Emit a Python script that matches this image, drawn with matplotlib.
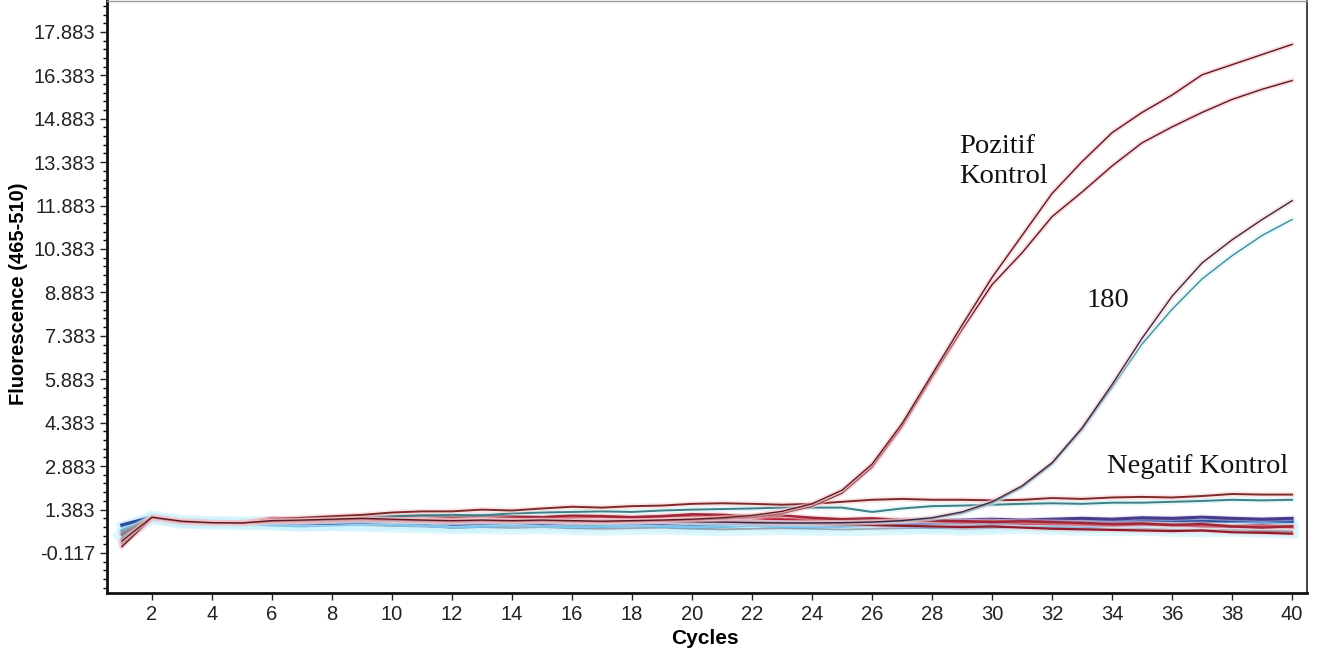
import matplotlib
matplotlib.use('Agg')
import matplotlib.pyplot as plt
import matplotlib.patheffects as pe
from matplotlib.ticker import AutoMinorLocator

cycles = list(range(1, 41))

# amplification curves (fluorescence per cycle)
pos_ctrl_1 = [0.30, 1.12, 0.98, 0.93, 0.92, 1.00, 1.02, 1.05, 1.08, 1.05,
              1.02, 1.00, 1.02, 1.00, 1.02, 1.00, 0.98, 1.00, 1.02, 1.05,
              1.10, 1.18, 1.32, 1.58, 2.05, 2.95, 4.35, 6.05, 7.75, 9.40,
              10.85, 12.30, 13.40, 14.40, 15.10, 15.70, 16.40, 16.75, 17.10, 17.45]
pos_ctrl_2 = [0.10, 1.10, 0.96, 0.92, 0.92, 0.98, 1.00, 1.03, 1.05, 1.02,
              1.00, 0.98, 1.00, 0.98, 1.00, 0.98, 0.96, 0.98, 1.00, 1.02,
              1.06, 1.12, 1.25, 1.50, 1.95, 2.85, 4.25, 5.95, 7.60, 9.15,
              10.25, 11.50, 12.35, 13.25, 14.05, 14.60, 15.10, 15.55, 15.90, 16.20]
sample_180_a = [0.20, 1.10, 0.95, 0.92, 0.90, 0.95, 0.98, 1.00, 1.02, 1.00,
                0.98, 0.95, 0.98, 0.96, 0.98, 0.95, 0.95, 0.96, 0.98, 0.96,
                0.95, 0.93, 0.92, 0.92, 0.93, 0.95, 1.00, 1.10, 1.30, 1.65,
                2.20, 3.00, 4.20, 5.70, 7.30, 8.75, 9.90, 10.70, 11.40, 12.05]
sample_180_b = [0.40, 1.10, 0.95, 0.92, 0.90, 0.94, 0.96, 0.98, 1.00, 0.98,
                0.96, 0.94, 0.96, 0.95, 0.96, 0.94, 0.94, 0.95, 0.96, 0.95,
                0.94, 0.92, 0.91, 0.91, 0.92, 0.94, 0.98, 1.08, 1.25, 1.60,
                2.15, 2.95, 4.15, 5.60, 7.10, 8.30, 9.35, 10.15, 10.85, 11.40]
neg_ctrl_1 = [0.50, 1.13, 0.95, 0.92, 0.92, 1.05, 1.10, 1.15, 1.20, 1.28,
              1.32, 1.32, 1.38, 1.35, 1.42, 1.48, 1.45, 1.50, 1.52, 1.58,
              1.60, 1.58, 1.55, 1.58, 1.65, 1.72, 1.75, 1.72, 1.72, 1.70,
              1.72, 1.78, 1.75, 1.80, 1.82, 1.80, 1.85, 1.92, 1.90, 1.90]
neg_ctrl_2 = [0.60, 1.12, 0.95, 0.92, 0.92, 1.00, 1.05, 1.08, 1.10, 1.15,
              1.18, 1.20, 1.18, 1.25, 1.28, 1.30, 1.32, 1.30, 1.35, 1.38,
              1.40, 1.42, 1.45, 1.45, 1.45, 1.30, 1.42, 1.50, 1.52, 1.55,
              1.58, 1.60, 1.58, 1.62, 1.62, 1.65, 1.68, 1.72, 1.70, 1.72]

# baseline (no amplification) samples
base_1 = [0.85, 1.12, 0.96, 0.92, 0.92, 0.95, 0.90, 0.92, 0.95, 0.98,
          1.00, 0.88, 0.92, 0.95, 0.90, 0.92, 0.95, 0.92, 0.90, 0.95,
          0.92, 0.90, 0.88, 0.92, 0.95, 0.90, 0.88, 0.92, 0.95, 0.90,
          0.92, 0.95, 0.98, 0.95, 1.00, 1.02, 0.98, 1.00, 1.02, 0.98]
base_2 = [0.80, 1.10, 0.95, 0.92, 0.90, 0.85, 0.82, 0.85, 0.88, 0.86,
          0.84, 0.78, 0.80, 0.84, 0.82, 0.78, 0.80, 0.84, 0.80, 0.78,
          0.80, 0.84, 0.80, 0.78, 0.80, 0.84, 0.78, 0.76, 0.80, 0.78,
          0.84, 0.80, 0.78, 0.84, 0.86, 0.88, 0.84, 0.80, 0.88, 0.86]
base_3 = [0.35, 1.12, 0.98, 0.94, 0.92, 1.08, 1.05, 1.12, 1.15, 1.10,
          1.05, 1.10, 1.15, 1.10, 1.08, 1.12, 1.15, 1.10, 1.15, 1.18,
          1.15, 1.10, 1.05, 1.02, 1.00, 0.98, 1.02, 1.00, 0.95, 0.98,
          0.92, 0.90, 0.88, 0.85, 0.88, 0.85, 0.82, 0.80, 0.82, 0.78]
base_4 = [0.15, 1.10, 0.96, 0.93, 0.92, 1.02, 0.95, 1.00, 1.05, 1.02,
          0.98, 1.00, 0.98, 1.02, 0.98, 0.95, 0.98, 1.00, 0.98, 0.95,
          0.98, 0.95, 0.92, 0.90, 0.88, 0.85, 0.82, 0.80, 0.78, 0.80,
          0.76, 0.72, 0.70, 0.68, 0.66, 0.64, 0.66, 0.60, 0.58, 0.55]
base_5 = [0.55, 1.11, 0.96, 0.92, 0.92, 0.98, 0.95, 0.98, 1.00, 1.00,
          0.98, 0.95, 1.00, 1.02, 1.00, 0.98, 1.00, 0.98, 1.00, 1.02,
          1.00, 0.98, 0.95, 0.98, 1.00, 1.02, 0.98, 1.00, 1.02, 1.05,
          1.02, 1.05, 1.08, 1.05, 1.10, 1.08, 1.12, 1.08, 1.05, 1.08]
base_6 = [0.65, 1.10, 0.95, 0.92, 0.90, 0.92, 0.90, 0.92, 0.95, 0.95,
          0.92, 0.88, 0.90, 0.92, 0.90, 0.88, 0.90, 0.92, 0.90, 0.88,
          0.90, 0.92, 0.90, 0.88, 0.85, 0.88, 0.90, 0.92, 0.90, 0.95,
          0.92, 0.95, 0.92, 0.95, 0.98, 0.95, 1.00, 0.98, 0.95, 0.98]
base_7 = [0.25, 1.12, 0.97, 0.93, 0.92, 1.00, 0.98, 1.08, 1.10, 1.15,
          1.18, 1.12, 1.18, 1.15, 1.12, 1.18, 1.15, 1.12, 1.15, 1.22,
          1.20, 1.15, 1.18, 1.10, 1.05, 1.08, 1.02, 1.00, 0.98, 0.95,
          0.98, 0.95, 0.92, 0.88, 0.90, 0.85, 0.88, 0.80, 0.76, 0.80]
base_8 = [0.45, 1.11, 0.96, 0.92, 0.91, 0.92, 0.86, 0.88, 0.85, 0.82,
          0.80, 0.76, 0.78, 0.75, 0.78, 0.74, 0.72, 0.74, 0.76, 0.72,
          0.70, 0.72, 0.74, 0.72, 0.70, 0.72, 0.74, 0.76, 0.72, 0.75,
          0.78, 0.75, 0.72, 0.70, 0.72, 0.68, 0.66, 0.68, 0.64, 0.62]

y_ticks = [-0.117, 1.383, 2.883, 4.383, 5.883, 7.383, 8.883, 10.383,
           11.883, 13.383, 14.883, 16.383, 17.883]
x_ticks = list(range(2, 41, 2))

fig = plt.figure(figsize=(13.22, 6.57), dpi=100)
ax = fig.add_axes([0.0809, 0.0974, 0.9078, 0.9011])


def draw(y, color, glow, lw=1.2, glow_lw=4.0, glow_alpha=0.45):
    ax.plot(cycles, y, color=color, linewidth=lw, solid_joinstyle='miter',
            path_effects=[pe.Stroke(linewidth=glow_lw, foreground=glow, alpha=glow_alpha),
                          pe.Normal()])


# baseline band first so amplification curves sit on top
draw(base_8, "#6a5a66", "#c4f1fc", lw=1.4, glow_lw=10, glow_alpha=0.55)
draw(base_2, "#3a9ad9", "#c4f1fc", lw=2.2, glow_lw=8, glow_alpha=0.5)
draw(base_6, "#2e6fb8", "#c9f0fb", lw=2.2, glow_lw=6, glow_alpha=0.5)
draw(base_1, "#2d4f9e", "#bfe6f7", lw=2.4)
draw(base_5, "#4a3a8c", "#cfd8f5", lw=2.2)
draw(base_3, "#b8223a", "#f6c8d0", lw=2.2)
draw(base_4, "#8e1b2c", "#f3c6cc", lw=1.6)
draw(base_7, "#9e2838", "#f3c6cc", lw=1.8)
draw(neg_ctrl_2, "#3d7f86", "#c7eef2", lw=1.4)
draw(neg_ctrl_1, "#7e2a2a", "#f4c9cc", lw=1.4)
draw(sample_180_b, "#3f8f97", "#cdeff3", lw=1.0)
draw(sample_180_a, "#3e2440", "#f1c9d2", lw=1.0)
draw(pos_ctrl_2, "#5e1a22", "#f6c2c8", lw=1.0, glow_lw=3.5, glow_alpha=0.6)
draw(pos_ctrl_1, "#5e1a22", "#f6c2c8", lw=1.0, glow_lw=3.5, glow_alpha=0.6)

ax.set_xlim(0.5, 40.5)
ax.set_ylim(-1.5, 18.95)
ax.set_xticks(x_ticks)
ax.set_yticks(y_ticks)
ax.set_yticklabels([f"{v:.3f}" for v in y_ticks])
ax.yaxis.set_minor_locator(AutoMinorLocator(5))
ax.tick_params(axis='both', which='major', direction='out', length=5, width=1,
               labelsize=14.5, colors='#222222')
ax.tick_params(axis='y', which='minor', direction='out', length=3, width=1)
for lab in ax.get_xticklabels() + ax.get_yticklabels():
    lab.set_family('Liberation Sans')

for side in ['left', 'bottom']:
    ax.spines[side].set_linewidth(2)
    ax.spines[side].set_color('#111111')
ax.spines['top'].set_color('#999999')
ax.spines['top'].set_linewidth(1)
ax.spines['right'].set_color('#222222')
ax.spines['right'].set_linewidth(1.2)

ax.set_xlabel("Cycles", fontsize=15, fontweight='bold', family='Liberation Sans')
ax.xaxis.set_label_coords(0.498, -0.061)
ax.set_ylabel("Fluorescence (465-510)", fontsize=14.5, fontweight='bold',
              family='Liberation Sans')
ax.yaxis.set_label_coords(-0.066, 0.505)

serif = dict(family='Liberation Serif', fontsize=20.5, color='#111111')
ax.text(28.9, 12.67, "Pozitif\nKontrol", va='baseline', ha='left', linespacing=1.25, **serif)
ax.text(33.15, 8.38, "180", va='baseline', ha='left', **serif)
ax.text(33.83, 2.65, "Negatif Kontrol", va='baseline', ha='left', **serif)

fig.savefig("out.png", dpi=100)
